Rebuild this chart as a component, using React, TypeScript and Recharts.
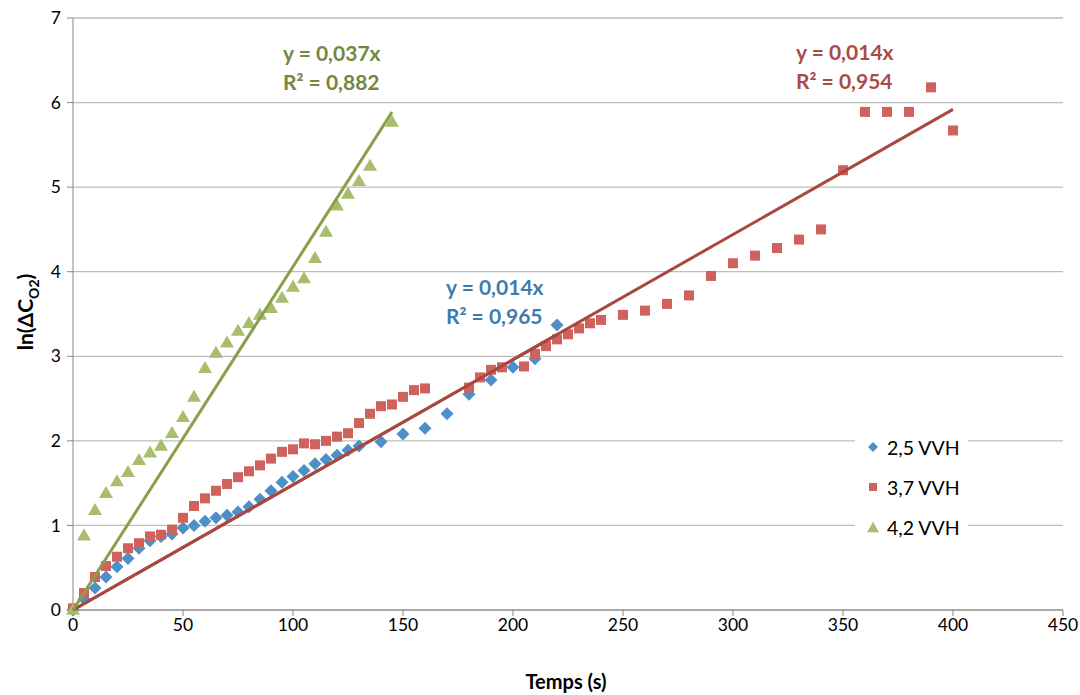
import * as React from 'react';
import {
  CartesianGrid,
  Scatter,
  ScatterChart,
  XAxis,
  YAxis,
} from 'recharts';

const TIME_25 = [0, 5, 10, 15, 20, 25, 30, 35, 40, 45, 50, 55, 60, 65, 70, 75, 80, 85, 90, 95, 100, 105, 110, 115, 120, 125, 130, 140, 150, 160, 170, 180, 190, 200, 210, 220];
const LN_25 = [0, 0.13, 0.26, 0.39, 0.51, 0.61, 0.73, 0.82, 0.87, 0.9, 0.97, 1.0, 1.05, 1.09, 1.12, 1.16, 1.22, 1.31, 1.41, 1.51, 1.58, 1.65, 1.73, 1.78, 1.83, 1.89, 1.94, 1.99, 2.08, 2.15, 2.32, 2.55, 2.72, 2.87, 2.97, 3.37];

const TIME_37 = [0, 5, 10, 15, 20, 25, 30, 35, 40, 45, 50, 55, 60, 65, 70, 75, 80, 85, 90, 95, 100, 105, 110, 115, 120, 125, 130, 135, 140, 145, 150, 155, 160, 180, 185, 190, 195, 205, 210, 215, 220, 225, 230, 235, 240, 250, 260, 270, 280, 290, 300, 310, 320, 330, 340, 350, 360, 370, 380, 390, 400];
const LN_37 = [0.02, 0.2, 0.39, 0.52, 0.63, 0.73, 0.79, 0.87, 0.89, 0.95, 1.09, 1.23, 1.32, 1.41, 1.49, 1.57, 1.64, 1.71, 1.79, 1.87, 1.9, 1.97, 1.96, 2.0, 2.05, 2.09, 2.21, 2.32, 2.41, 2.43, 2.52, 2.6, 2.62, 2.63, 2.75, 2.84, 2.87, 2.88, 3.03, 3.12, 3.2, 3.26, 3.33, 3.39, 3.43, 3.49, 3.54, 3.62, 3.72, 3.95, 4.1, 4.19, 4.28, 4.38, 4.5, 5.2, 5.89, 5.89, 5.89, 6.18, 5.67];

const TIME_42 = [0, 5, 10, 15, 20, 25, 30, 35, 40, 45, 50, 55, 60, 65, 70, 75, 80, 85, 90, 95, 100, 105, 110, 115, 120, 125, 130, 135, 145];
const LN_42 = [0, 0.88, 1.18, 1.38, 1.52, 1.63, 1.77, 1.86, 1.94, 2.09, 2.28, 2.52, 2.86, 3.04, 3.16, 3.3, 3.39, 3.49, 3.57, 3.69, 3.82, 3.92, 4.16, 4.47, 4.78, 4.92, 5.07, 5.25, 5.77];

// trend lines through the origin, slopes as drawn in the picture
const FIT_SLOPE = { v25: 0.0148, v37: 0.0148, v42: 0.0406 };
const FIT_END = { v25: 220, v37: 400, v42: 145 };

const X_TICKS = [0, 50, 100, 150, 200, 250, 300, 350, 400, 450];
const Y_TICKS = [0, 1, 2, 3, 4, 5, 6, 7];

const SERIES_NAMES = ['2,5 VVH', '3,7 VVH', '4,2 VVH'];

const BLUE = '#4F8FC7';
const RED = '#CF625D';
const GREEN = '#A9BE6C';
const RED_LINE = '#A8483F';
const GREEN_LINE = '#8B9F4B';
const FONT = 'Lato, "Open Sans", sans-serif';

const toPoints = (xs: number[], ys: number[]) => xs.map((x, i) => ({ x, y: ys[i] }));
const fitLine = (slope: number, end: number) => [
  { x: 0, y: 0 },
  { x: end, y: slope * end },
];

function Diamond({ cx, cy, r = 6.5 }: any) {
  return <path d={`M${cx},${cy - r}L${cx + r},${cy}L${cx},${cy + r}L${cx - r},${cy}Z`} fill={BLUE} />;
}
function Square({ cx, cy, s = 10 }: any) {
  return <rect x={cx - s / 2} y={cy - s / 2} width={s} height={s} fill={RED} />;
}
function Triangle({ cx, cy, w = 14 }: any) {
  const h = w * 0.86;
  return <path d={`M${cx},${cy - h * 0.6}L${cx + w / 2},${cy + h * 0.4}L${cx - w / 2},${cy + h * 0.4}Z`} fill={GREEN} />;
}
const NoDot = () => <g />;

function LegendBox() {
  const icons = [
    <Diamond cx={8} cy={9} r={5} />,
    <Square cx={8} cy={9} s={8} />,
    <Triangle cx={8} cy={10} w={12} />,
  ];
  return (
    <div
      style={{
        position: 'absolute',
        left: 855,
        top: 427,
        width: 113,
        background: '#fff',
        padding: '0 0 0 10px',
        boxSizing: 'border-box',
      }}
    >
      {SERIES_NAMES.map((n, i) => (
        <div key={n} style={{ display: 'flex', alignItems: 'center', height: 40, fontFamily: FONT, fontSize: 19.5, color: '#000' }}>
          <svg width={16} height={18} style={{ marginRight: 6 }}>{icons[i]}</svg>
          {n}
        </div>
      ))}
    </div>
  );
}

const labelStyle: React.CSSProperties = {
  position: 'absolute',
  fontFamily: FONT,
  fontWeight: 700,
  fontSize: 21,
  lineHeight: '29px',
  whiteSpace: 'nowrap',
};

export default function App() {
  return (
    <div style={{ position: 'absolute', left: 0, top: 0, width: 1080, height: 695, background: '#fff' }}>
      <ScatterChart width={1080} height={695} margin={{ top: 18, right: 17, left: 0, bottom: 0 }}>
        <CartesianGrid horizontal vertical={false} stroke="#BDBDBD" strokeWidth={1.3} />
        <XAxis
          type="number"
          dataKey="x"
          domain={[0, 450]}
          ticks={X_TICKS}
          height={85}
          stroke="#878787"
          tickSize={6}
          tick={{ fill: '#000', fontSize: 17.5, fontFamily: FONT }}
          tickMargin={3}
        />
        <YAxis
          type="number"
          dataKey="y"
          domain={[0, 7]}
          ticks={Y_TICKS}
          width={73}
          stroke="#878787"
          tickSize={6}
          tick={{ fill: '#000', fontSize: 17.5, fontFamily: FONT }}
          tickMargin={6}
        />
        <Scatter name={SERIES_NAMES[0]} data={toPoints(TIME_25, LN_25)} shape={<Diamond />} isAnimationActive={false} />
        <Scatter name={SERIES_NAMES[1]} data={toPoints(TIME_37, LN_37)} shape={<Square />} isAnimationActive={false} />
        <Scatter name={SERIES_NAMES[2]} data={toPoints(TIME_42, LN_42)} shape={<Triangle />} isAnimationActive={false} />
        <Scatter
          data={fitLine(FIT_SLOPE.v25, FIT_END.v25)}
          line={{ stroke: RED_LINE, strokeWidth: 3 }}
          shape={NoDot}
          isAnimationActive={false}
        />
        <Scatter
          data={fitLine(FIT_SLOPE.v37, FIT_END.v37)}
          line={{ stroke: RED_LINE, strokeWidth: 3 }}
          shape={NoDot}
          isAnimationActive={false}
        />
        <Scatter
          data={fitLine(FIT_SLOPE.v42, FIT_END.v42)}
          line={{ stroke: GREEN_LINE, strokeWidth: 3 }}
          shape={NoDot}
          isAnimationActive={false}
        />
      </ScatterChart>

      <LegendBox />

      <div style={{ ...labelStyle, left: 283, top: 38, color: '#76863F' }}>
        y = 0,037x<br />R² = 0,882
      </div>
      <div style={{ ...labelStyle, left: 446, top: 272, color: '#3F7BAF' }}>
        y = 0,014x<br />R² = 0,965
      </div>
      <div style={{ ...labelStyle, left: 796, top: 37, color: '#AA4B47' }}>
        y = 0,014x<br />R² = 0,954
      </div>

      <div style={{ position: 'absolute', left: 0, top: 669, width: 1132, textAlign: 'center', fontFamily: FONT, fontWeight: 700, fontSize: 20 }}>
        Temps (s)
      </div>
      <div
        style={{
          position: 'absolute',
          left: 27,
          top: 312,
          transform: 'translate(-50%, -50%) rotate(-90deg)',
          fontFamily: FONT,
          fontWeight: 700,
          fontSize: 21,
          whiteSpace: 'nowrap',
        }}
      >
        ln(ΔC<sub style={{ fontSize: 14 }}>O2</sub>)
      </div>
    </div>
  );
}
